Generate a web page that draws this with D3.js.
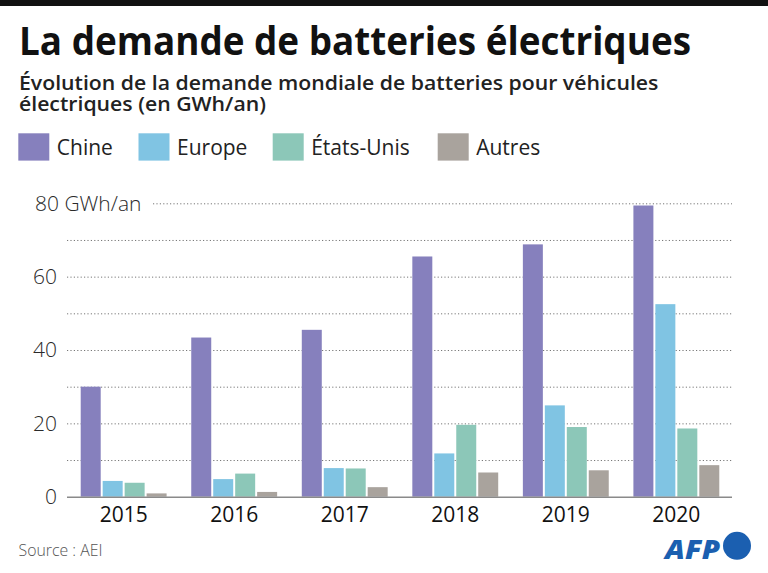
<!DOCTYPE html>
<html><head><meta charset="utf-8">
<script src="https://cdn.jsdelivr.net/npm/d3@7"></script>
<style>
html,body{margin:0;padding:0;background:#fff;}
svg{display:block;}
</style></head>
<body>
<svg id="c" width="768" height="573"></svg>
<script>
const years = ["2015","2016","2017","2018","2019","2020"];
const seriesNames = ["Chine","Europe","États-Unis","Autres"];
const chine = [30.0, 43.4, 45.5, 65.5, 68.8, 79.4];
const europe = [4.3, 4.8, 7.8, 11.8, 24.9, 52.5];
const etatsUnis = [3.8, 6.3, 7.7, 19.6, 19.0, 18.6];
const autres = [0.9, 1.3, 2.6, 6.6, 7.2, 8.6];
const seriesColors = ["#8680bd","#80c4e3","#8cc7b8","#a9a39d"];
const gridTicks = [0,10,20,30,40,50,60,70,80];
const labelTicks = [0,20,40,60,80];

const seriesValues = [chine, europe, etatsUnis, autres];
const rows = years.map((yr,i)=>({year:yr, values: seriesNames.map((s,j)=>({key:s, value:seriesValues[j][i]}))}));

const svg = d3.select("#c");
const font = "'Open Sans', 'Noto Sans', sans-serif";

// top bar
svg.append("rect").attr("x",0).attr("y",0).attr("width",768).attr("height",6).attr("fill","#111");

// title
svg.append("text").attr("x",19).attr("y",55)
  .attr("font-family",font).attr("font-weight",700).attr("font-size",40).attr("fill","#111")
  .attr("textLength",672).attr("lengthAdjust","spacingAndGlyphs")
  .text("La demande de batteries électriques");

// subtitle (one text, two lines)
const sub = svg.append("text")
  .attr("font-family",font).attr("font-weight",600).attr("font-size",19.5).attr("fill","#222");
const t1 = sub.append("tspan").attr("x",19).attr("y",90.5)
  .text("Évolution de la demande mondiale de batteries pour véhicules");
sub.append("tspan").attr("x",19).attr("y",111.5).text("électriques (en GWh/an)");
const w1 = t1.node().getComputedTextLength();
const k = 640 / w1;
sub.attr("transform",`translate(19,0) scale(${k},1) translate(-19,0)`);

// legend
const legX = [18.3, 138.5, 272.7, 437.7];
const leg = svg.append("g");
seriesNames.forEach((s,i)=>{
  leg.append("rect").attr("x",legX[i]).attr("y",133.3).attr("width",31).attr("height",27.3).attr("fill",seriesColors[i]);
  leg.append("text").attr("x",legX[i]+38.5).attr("y",154.5)
    .attr("font-family",font).attr("font-size",21).attr("font-weight",400).attr("fill","#222").text(s);
});

// scales
const y = d3.scaleLinear().domain([0,80]).range([496.7,203.3]);
const x0 = d3.scaleBand().domain(years).range([68,732]).paddingInner(0.223).paddingOuter(0.115);
const x1 = d3.scaleBand().domain(seriesNames).range([0,x0.bandwidth()]).paddingInner(0.09).paddingOuter(0);
const color = d3.scaleOrdinal().domain(seriesNames).range(seriesColors);

// y axis grid
const yAxis = svg.append("g").attr("transform","translate(67,0)")
  .call(d3.axisLeft(y).tickValues(gridTicks).tickSize(-665).tickPadding(10)
    .tickFormat(d=> labelTicks.includes(d) ? (d===80 ? "80 GWh/an" : String(d)) : ""));
yAxis.select(".domain").remove();
yAxis.selectAll(".tick line").attr("stroke","#777").attr("stroke-width",1).attr("stroke-dasharray","1.2,2.2");
yAxis.selectAll(".tick").filter(d=>d===80).select("line").attr("x1",86);
yAxis.selectAll(".tick").filter(d=>d===0).select("line").remove();
yAxis.selectAll(".tick text").attr("font-family",font).attr("font-size",21).attr("font-weight",300).attr("fill","#2a2a2a");
yAxis.selectAll(".tick").filter(d=>d===80).select("text").attr("text-anchor","start").attr("x",-32);

// bars
const groups = svg.append("g").selectAll("g").data(rows).join("g")
  .attr("transform",d=>`translate(${x0(d.year)},0)`);
groups.selectAll("rect").data(d=>d.values).join("rect")
  .attr("x",d=>x1(d.key)).attr("width",x1.bandwidth())
  .attr("y",d=>y(d.value)).attr("height",d=>y(0)-y(d.value))
  .attr("fill",d=>color(d.key));

// x axis
const xAxis = svg.append("g").attr("transform",`translate(0,${y(0)})`)
  .call(d3.axisBottom(x0).tickSize(0).tickSizeOuter(0).tickPadding(10));
xAxis.select(".domain").attr("d","M67,0.5H732").attr("stroke","#8a8a8a").attr("stroke-width",1.6);
xAxis.selectAll(".tick text").attr("font-family",font).attr("font-size",21).attr("font-weight",400).attr("fill","#111");

// source
svg.append("text").attr("x",18.5).attr("y",555.5)
  .attr("font-family",font).attr("font-size",16).attr("font-weight",300).attr("fill","#555")
  .attr("textLength",84).attr("lengthAdjust","spacingAndGlyphs")
  .text("Source : AEI");

// AFP logo
svg.append("text").attr("x",665).attr("y",558.5)
  .attr("font-family",font).attr("font-weight",800).attr("font-style","italic").attr("font-size",27)
  .attr("fill","#1b5fb0").attr("textLength",55).attr("lengthAdjust","spacingAndGlyphs").text("AFP");
svg.append("circle").attr("cx",737).attr("cy",545.8).attr("r",14).attr("fill","#1b5fb0");
</script>
</body></html>
